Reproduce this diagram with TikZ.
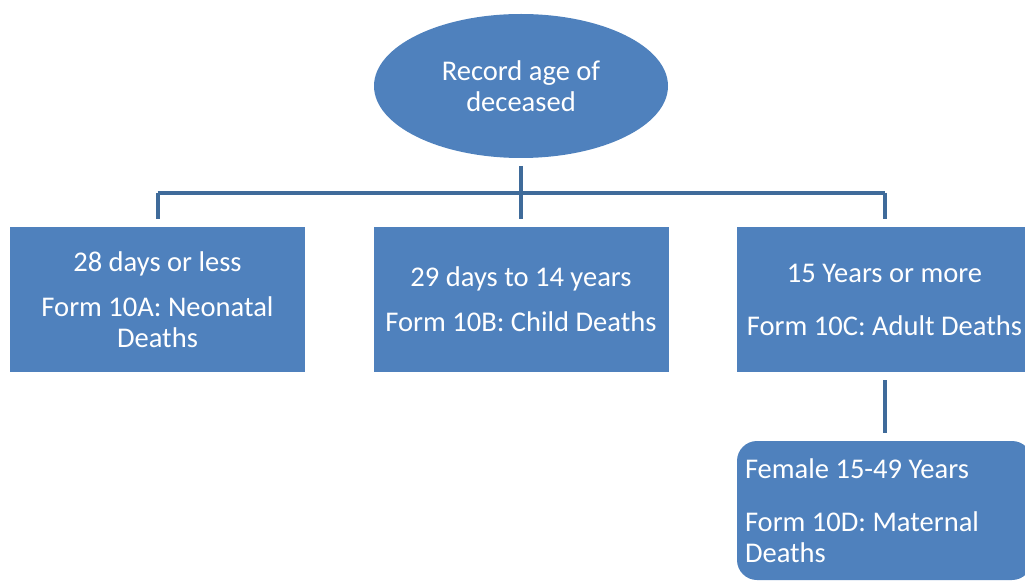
\documentclass[tikz,border=0pt]{standalone}
\usepackage{fontspec}
\setmainfont{Carlito}
\usetikzlibrary{positioning, shapes.geometric, calc}
\definecolor{cfill}{HTML}{4F81BD}
\definecolor{cline}{HTML}{3F6B9A}
\tikzset{
  every picture/.style={font=\fontsize{20.3}{22}\selectfont, line width=0.1cm},
  box/.style={fill=cfill, text=white, align=center, inner sep=0pt, minimum width=7.375cm, minimum height=3.625cm},
  roundbox/.style={box, rounded corners=0.5cm, align=flush left, text width=6.975cm, minimum height=3.475cm},
  oval/.style={ellipse, fill=cfill, text=white, align=center, inner sep=0pt, minimum width=7.35cm, minimum height=3.6cm},
  link/.style={draw=cline, shorten <=0.15cm, shorten >=0.15cm},
  bar/.style={draw=cline},
}
\begin{document}
\begin{tikzpicture}
  \useasboundingbox (0,0) rectangle (25.625,-14.525);
  % top
  \node[oval] (root) at (13.025,-2.15) {Record age of\\deceased};
  % age groups
  \node[box] (neo) at (3.9375,-7.4875) {28 days or less\\[0.35cm]Form 10A: Neonatal\\Deaths};
  \node[box] (child) at (13.025,-7.4875) {29 days to 14 years\\[0.35cm]Form 10B: Child Deaths};
  \node[box] (adult) at (22.1125,-7.4875) {15 Years or more\\[0.55cm]Form 10C: Adult Deaths};
  \node[roundbox] (mat) at (22.1125,-12.7625) {Female 15-49 Years\\[0.55cm]Form 10D: Maternal\\Deaths};
  % connectors
  \coordinate (split) at (13.025,-4.825);
  \draw[link] (root) -- (child);
  \draw[bar] (neo.north |- split) -- (adult.north |- split);
  \foreach \b in {neo,adult}
    \draw[link, shorten <=0pt] (\b.north |- split) -- (\b.north);
  \draw[link] (adult) -- (mat);
\end{tikzpicture}
\end{document}
